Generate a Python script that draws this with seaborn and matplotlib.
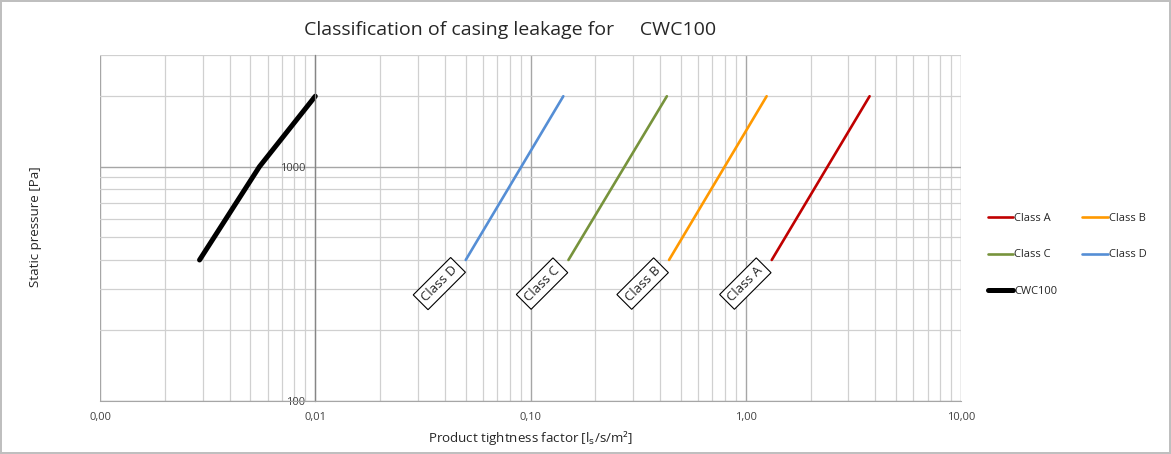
import numpy as np
import pandas as pd
import seaborn as sns
import matplotlib.pyplot as plt
from matplotlib import ticker

# ── Data ───────────────────────────────────────────────────────────────────────
class_pressure = [400, 2000]
class_a = [1.32, 3.76]
class_b = [0.44, 1.25]
class_c = [0.15, 0.43]
class_d = [0.05, 0.142]

cwc_pressure = [400, 1000, 2000]
cwc_factor = [0.0029, 0.0055, 0.01]

x_ticks = [0.001, 0.01, 0.1, 1, 10]
x_tick_labels = ["0,00", "0,01", "0,10", "1,00", "10,00"]
y_ticks = [100, 1000]
y_tick_labels = ["100", "1000"]

# ── Style ──────────────────────────────────────────────────────────────────────
sns.set_style("white")
plt.rcParams["font.family"] = ["Open Sans", "DejaVu Sans"]

fig = plt.figure(figsize=(11.71, 4.54), dpi=100)
fig.patch.set_edgecolor("#BFBFBF")
fig.patch.set_linewidth(1.5)
ax = fig.add_axes([0.0854, 0.1167, 0.7353, 0.7622])

classes = [
    ("Class A", class_a, "#C00000"),
    ("Class B", class_b, "#FF9900"),
    ("Class C", class_c, "#77933C"),
    ("Class D", class_d, "#558ED5"),
]

for name, vals, col in classes:
    df = pd.DataFrame({"factor": vals, "pressure": class_pressure})
    sns.lineplot(data=df, x="factor", y="pressure", color=col, linewidth=1.9,
                 label=name, sort=False, ax=ax)
    ax.annotate(name, xy=(vals[0], class_pressure[0]), xytext=(-19, -17),
                textcoords="offset points", rotation=45, ha="center", va="center",
                fontsize=9.5,
                bbox=dict(boxstyle="square,pad=0.3", fc="white", ec="black", lw=0.8))

cwc = pd.DataFrame({"factor": cwc_factor, "pressure": cwc_pressure})
sns.lineplot(data=cwc, x="factor", y="pressure", color="black", linewidth=3.6,
             label="CWC100", sort=False, ax=ax, solid_capstyle="round")

# ── Axes ───────────────────────────────────────────────────────────────────────
ax.set_xscale("log")
ax.set_yscale("log")
ax.set_xlim(0.001, 10)
ax.set_ylim(100, 3000)

ax.xaxis.set_major_locator(ticker.FixedLocator(x_ticks))
ax.xaxis.set_major_formatter(ticker.FixedFormatter(x_tick_labels))
ax.xaxis.set_minor_locator(ticker.LogLocator(base=10, subs=np.arange(2, 10)))
ax.xaxis.set_minor_formatter(ticker.NullFormatter())
ax.yaxis.set_major_locator(ticker.FixedLocator(y_ticks))
ax.yaxis.set_major_formatter(ticker.FixedFormatter(y_tick_labels))
ax.yaxis.set_minor_locator(ticker.LogLocator(base=10, subs=np.arange(2, 10)))
ax.yaxis.set_minor_formatter(ticker.NullFormatter())

ax.grid(which="major", color="#A6A6A6", linewidth=1.0)
ax.grid(which="minor", color="#D0D0D0", linewidth=0.9)
ax.set_axisbelow(True)

for s in ["top", "right"]:
    ax.spines[s].set_visible(False)
ax.spines["left"].set_position(("data", 0.01))
ax.spines["left"].set_color("#868686")
ax.spines["bottom"].set_color("#A6A6A6")
ax.spines["left"].set_linewidth(0.9)

ax.tick_params(axis="both", which="both", length=0, labelsize=8, labelcolor="#404040")
ax.tick_params(axis="y", pad=7)
ax.tick_params(axis="x", pad=8)

ax.set_xlabel("")
ax.set_ylabel("")
fig.text(0.453, 0.035, r"Product tightness factor [l$_\mathrm{s}$/s/m²]",
         ha="center", va="center", fontsize=9.6, color="#262626")
fig.text(0.03, 0.50, "Static pressure [Pa]", rotation=90,
         ha="center", va="center", fontsize=9.6, color="#262626")
fig.text(0.436, 0.934, "Classification of casing leakage for     CWC100",
         ha="center", va="center", fontsize=14, color="#262626")

# legend row-wise like Excel: A B / C D / CWC100
handles, labels = ax.get_legend_handles_labels()
order = [0, 2, 4, 1, 3]
ax.legend([handles[i] for i in order], [labels[i] for i in order],
          ncol=2, loc="upper left", bbox_to_anchor=(0.835, 0.553),
          bbox_transform=fig.transFigure, frameon=False, fontsize=8,
          handlelength=2.3, handletextpad=0.1, labelspacing=2.3, columnspacing=2.2)

plt.savefig("out.png", dpi=100, edgecolor=fig.get_edgecolor())
